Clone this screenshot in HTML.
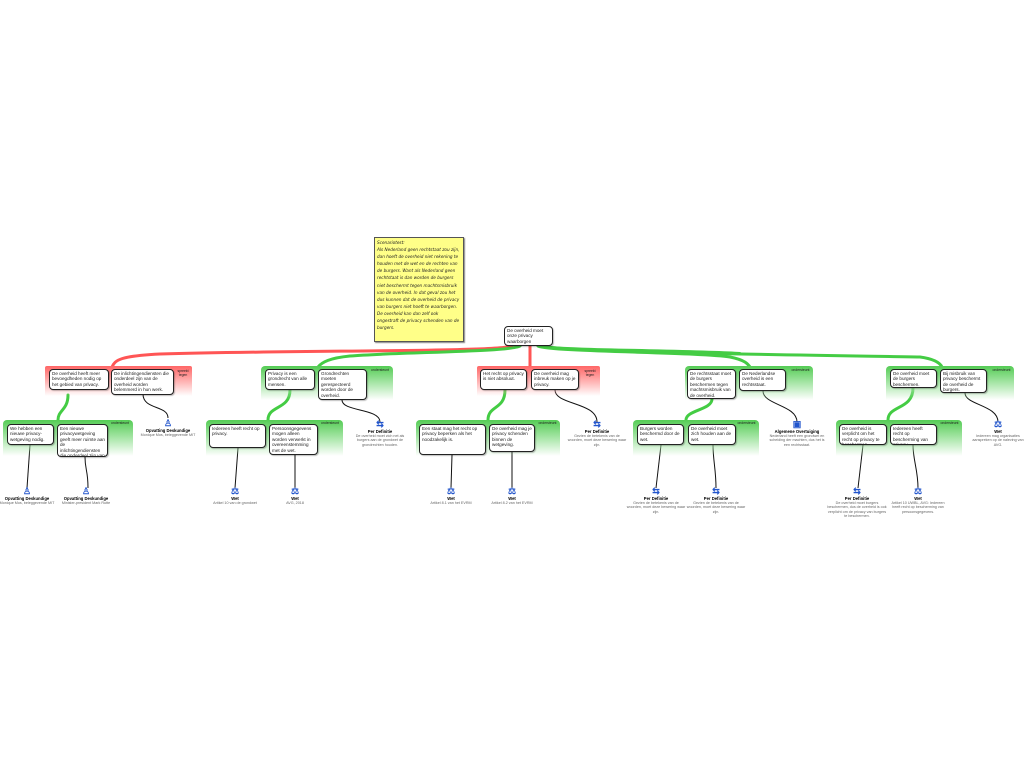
<!DOCTYPE html>
<html><head><meta charset="utf-8"><style>
body{margin:0;width:1024px;height:768px;background:#fff;position:relative;overflow:hidden;font-family:"Liberation Sans",sans-serif}
.b{position:absolute;background:#fff;border:1.3px solid #222;border-radius:4px;font-size:4.6px;line-height:5.4px;padding:1px 2px;box-sizing:border-box;color:#222;box-shadow:1px 1px 1px rgba(0,0,0,.25);overflow:hidden}
.g{position:absolute;border-radius:4px 4px 0 0;background:linear-gradient(#55cc55 0%,#a8e6a8 50%,rgba(255,255,255,0) 100%)}
.r{position:absolute;border-radius:2px 2px 0 0;background:linear-gradient(#ff6666 0%,#ffb0b0 50%,rgba(255,255,255,0) 100%)}
.lab{position:absolute;font-size:3.4px;line-height:3.8px;text-align:center;color:#222}
.ic{position:absolute;text-align:center;width:60px;font-size:3.7px;line-height:4.4px;color:#666}
.ic b{display:block;color:#000;font-size:4.2px;line-height:5px}
.ic i{display:block;font-style:normal;color:#2255cc;font-size:9px;line-height:10px;font-weight:bold}
.note{position:absolute;left:374px;top:237px;width:90px;height:105px;background:#ffff88;border:1px solid #555;box-shadow:1px 1px 1px #888;font-family:"DejaVu Sans",sans-serif;font-size:4.2px;line-height:7.1px;padding:1px 2px;box-sizing:border-box;color:#222;font-style:italic;overflow:hidden}
</style></head><body>
<svg style="position:absolute;left:0;top:0" width="1024" height="768">
<g fill="none" stroke-linecap="round">
<path d="M512 346 C500 352 300 350 160 354 C120 356 115 360 112 367" stroke="#f55" stroke-width="3"/>
<path d="M520 346 C510 352 400 352 350 356 C330 358 322 362 318 367" stroke="#4c4" stroke-width="3"/>
<path d="M530 346 L530 367" stroke="#f55" stroke-width="3"/>
<path d="M538 346 C550 352 700 352 730 357 C745 360 748 364 750 367" stroke="#4c4" stroke-width="3"/>
<path d="M542 346 C560 352 800 355 920 357 C935 359 940 363 942 367" stroke="#4c4" stroke-width="3"/>
<path d="M543 346 C560 350 700 350 740 353" stroke="#4c4" stroke-width="2"/>
<path d="M68 395 C68 410 58 410 58 420" stroke="#4c4" stroke-width="3"/>
<path d="M290 390 C290 410 268 405 268 420" stroke="#4c4" stroke-width="3"/>
<path d="M505 390 C505 410 488 405 488 420" stroke="#4c4" stroke-width="3"/>
<path d="M712 399 C712 410 686 410 686 420" stroke="#4c4" stroke-width="3"/>
<path d="M913 388 C913 410 888 405 888 420" stroke="#4c4" stroke-width="3"/>
</g>
<g fill="none" stroke="#111" stroke-width="1">
<path d="M143 394 C143 410 168 405 168 418"/>
<path d="M30 445 L27 488"/><path d="M85 457 C85 470 88 470 88 488"/>
<path d="M238 448 L235 488"/><path d="M295 455 L295 488"/>
<path d="M342 400 C342 412 380 408 380 422"/>
<path d="M452 455 L451 488"/><path d="M512 452 L512 488"/>
<path d="M555 390 C555 405 597 402 597 422"/>
<path d="M661 445 L656 488"/><path d="M713 445 C713 460 716 470 716 488"/>
<path d="M763 391 C763 405 797 405 797 422"/>
<path d="M863 445 L858 488"/><path d="M913 445 C913 460 918 470 918 488"/>
<path d="M965 393 C965 405 998 405 998 422"/>
</g>
</svg>
<div class="note">Scenariotest:<br>Als Nederland geen rechtstaat zou zijn, dan hoeft de overheid niet rekening te houden met de wet en de rechten van de burgers. Want als Nederland geen rechtstaat is dan worden de burgers niet beschermt tegen machtsmisbruik van de overheid. In dat geval zou het dus kunnen dat de overheid de privacy van burgers niet hoeft te waarborgen. De overheid kan dan zelf ook ongestraft de privacy schenden van de burgers.</div>
<div class="b" style="left:504px;top:326px;width:49px;height:20px">De overheid moet onze privacy waarborgen</div>

<div class="r" style="left:45px;top:366px;width:147px;height:30px"></div>
<div class="lab" style="left:175px;top:370px;width:16px">spreekt tegen</div>
<div class="b" style="left:49px;top:369px;width:60px;height:21px">De overheid heeft meer bevoegdheden nodig op het gebied van privacy.</div>
<div class="b" style="left:111px;top:369px;width:63px;height:26px">De inlichtingendiensten die onderdeel zijn van de overheid worden belemmerd in hun werk.</div>
<div class="g" style="left:3px;top:420px;width:130px;height:36px"></div>
<div class="lab" style="left:108px;top:422px;width:24px">ondersteunt</div>
<div class="b" style="left:7px;top:424px;width:47px;height:21px">We hebben een nieuwe privacy-wetgeving nodig.</div>
<div class="b" style="left:57px;top:424px;width:51px;height:33px">Een nieuwe privacywetgeving geeft meer ruimte aan de inlichtingendiensten die onderdeel zijn van de overheid.</div>
<div class="ic" style="left:138px;top:418px"><i>♙</i><b>Opvatting Deskundige</b>Monique Mos, beleggevende MIT</div>
<div class="ic" style="left:-3px;top:486px"><i>♙</i><b>Opvatting Deskundige</b>Monique Mos, beleggevende MIT</div>
<div class="ic" style="left:56px;top:486px"><i>♙</i><b>Opvatting Deskundige</b>Minister-president Mark Rutte</div>

<div class="g" style="left:261px;top:366px;width:132px;height:34px"></div>
<div class="lab" style="left:368px;top:369px;width:24px">ondersteunt</div>
<div class="b" style="left:265px;top:369px;width:50px;height:21px">Privacy is een grondrecht van alle mensen.</div>
<div class="b" style="left:318px;top:369px;width:49px;height:31px">Grondrechten moeten gerespecteerd worden door de overheid.</div>
<div class="g" style="left:206px;top:420px;width:137px;height:36px"></div>
<div class="lab" style="left:318px;top:422px;width:24px">ondersteunt</div>
<div class="b" style="left:209px;top:424px;width:57px;height:24px">Iedereen heeft recht op privacy.</div>
<div class="b" style="left:269px;top:424px;width:49px;height:31px">Persoonsgegevens mogen alleen worden verwerkt in overeenstemming met de wet.</div>
<div class="ic" style="left:350px;top:419px"><i>⇆</i><b>Per Definitie</b>De overheid moet zich net als burgers aan de grondwet de grondrechten houden.</div>
<div class="ic" style="left:205px;top:486px"><i>⚖</i><b>Wet</b>Artikel 10 van de grondwet</div>
<div class="ic" style="left:265px;top:486px"><i>⚖</i><b>Wet</b>AVG, 2018</div>

<div class="r" style="left:477px;top:366px;width:123px;height:30px"></div>
<div class="lab" style="left:582px;top:370px;width:16px">spreekt tegen</div>
<div class="b" style="left:480px;top:369px;width:47px;height:21px">Het recht op privacy is niet absoluut.</div>
<div class="b" style="left:531px;top:369px;width:48px;height:21px">De overheid mag inbreuk maken op je privacy.</div>
<div class="g" style="left:416px;top:420px;width:144px;height:36px"></div>
<div class="lab" style="left:536px;top:422px;width:23px">ondersteunt</div>
<div class="b" style="left:419px;top:424px;width:67px;height:31px">Een staat mag het recht op privacy beperken als het noodzakelijk is.</div>
<div class="b" style="left:489px;top:424px;width:46px;height:28px">De overheid mag je privacy schenden binnen de wetgeving.</div>
<div class="ic" style="left:567px;top:419px"><i>⇆</i><b>Per Definitie</b>Gezien de betekenis van de woorden, moet deze bewering waar zijn.</div>
<div class="ic" style="left:421px;top:486px"><i>⚖</i><b>Wet</b>Artikel 8.1 van het EVRM</div>
<div class="ic" style="left:482px;top:486px"><i>⚖</i><b>Wet</b>Artikel 8.2 van het EVRM</div>

<div class="g" style="left:685px;top:366px;width:128px;height:34px"></div>
<div class="lab" style="left:789px;top:369px;width:23px">ondersteunt</div>
<div class="b" style="left:687px;top:369px;width:49px;height:30px">De rechtsstaat moet de burgers beschermen tegen machtsmisbruik van de overheid.</div>
<div class="b" style="left:739px;top:369px;width:47px;height:22px">De Nederlandse overheid is een rechtsstaat.</div>
<div class="g" style="left:633px;top:420px;width:126px;height:36px"></div>
<div class="lab" style="left:735px;top:422px;width:23px">ondersteunt</div>
<div class="b" style="left:637px;top:424px;width:47px;height:21px">Burgers worden beschermd door de wet.</div>
<div class="b" style="left:688px;top:424px;width:48px;height:21px">De overheid moet zich houden aan de wet.</div>
<div class="ic" style="left:767px;top:419px"><i>▣</i><b>Algemene Overtuiging</b>Nederland heeft een grondwet en scheiding der machten, dus het is een rechtsstaat.</div>
<div class="ic" style="left:626px;top:486px"><i>⇆</i><b>Per Definitie</b>Gezien de betekenis van de woorden, moet deze bewering waar zijn.</div>
<div class="ic" style="left:686px;top:486px"><i>⇆</i><b>Per Definitie</b>Gezien de betekenis van de woorden, moet deze bewering waar zijn.</div>

<div class="g" style="left:886px;top:366px;width:128px;height:34px"></div>
<div class="lab" style="left:990px;top:369px;width:23px">ondersteunt</div>
<div class="b" style="left:890px;top:369px;width:47px;height:19px">De overheid moet de burgers beschermen.</div>
<div class="b" style="left:940px;top:369px;width:47px;height:24px">Bij misbruik van privacy beschermt de overheid de burgers.</div>
<div class="g" style="left:836px;top:420px;width:126px;height:36px"></div>
<div class="lab" style="left:938px;top:422px;width:23px">ondersteunt</div>
<div class="b" style="left:839px;top:424px;width:48px;height:21px">De overheid is verplicht om het recht op privacy te beschermen.</div>
<div class="b" style="left:890px;top:424px;width:47px;height:21px">Iedereen heeft recht op bescherming van privacy.</div>
<div class="ic" style="left:968px;top:419px"><i>⚖</i><b>Wet</b>Iedereen mag organisaties aanspreken op de naleving van AVG.</div>
<div class="ic" style="left:827px;top:486px"><i>⇆</i><b>Per Definitie</b>De overheid moet burgers beschermen, dus de overheid is ook verplicht om de privacy van burgers te beschermen.</div>
<div class="ic" style="left:888px;top:486px"><i>⚖</i><b>Wet</b>Artikel 10 UWBL, AVG: Iedereen heeft recht op bescherming van persoonsgegevens.</div>
</body></html>
